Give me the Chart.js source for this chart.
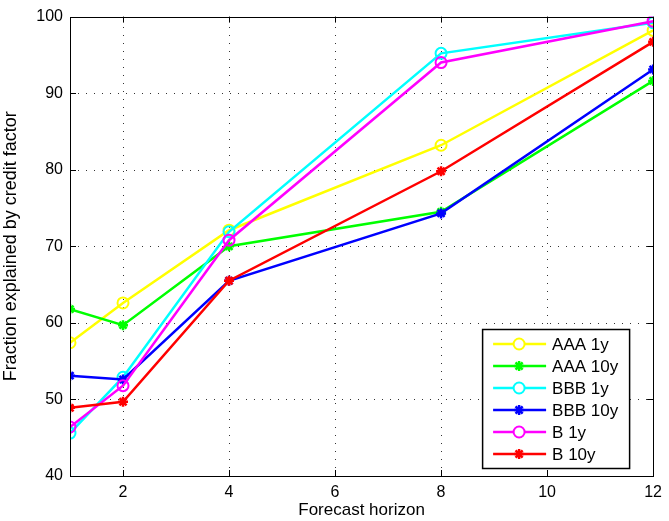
<!DOCTYPE html>
<html>
<head>
<meta charset="utf-8">
<script src="https://cdn.jsdelivr.net/npm/chart.js@4.4.0/dist/chart.umd.min.js"></script>
<style>
  html, body { margin: 0; padding: 0; background: #fff; }
  #wrap { width: 669px; height: 521px; }
</style>
</head>
<body>
<div id="wrap"><canvas id="line-chart"></canvas></div>
<script>
// forecast horizons (x) and the fraction explained for each series
const horizons = [1, 2, 4, 8, 12];
const xTicks = [2, 4, 6, 8, 10, 12];
const yTicks = [40, 50, 60, 70, 80, 90, 100];

const aaa1y = [57.4, 62.6, 72.1, 83.2, 98.2];
const aaa10y = [61.8, 59.7, 70.0, 74.5, 91.6];
const bbb1y = [45.6, 52.9, 71.9, 95.2, 99.2];
const bbb10y = [53.1, 52.6, 65.5, 74.3, 93.1];
const b1y = [46.4, 51.8, 70.8, 94.0, 99.4];
const b10y = [48.9, 49.7, 65.5, 79.8, 96.7];

const seriesNames = ['AAA 1y', 'AAA 10y', 'BBB 1y', 'BBB 10y', 'B 1y', 'B 10y'];
const seriesValues = [aaa1y, aaa10y, bbb1y, bbb10y, b1y, b10y];
const seriesColors = ['#ffff00', '#00ff00', '#00ffff', '#0000ff', '#ff00ff', '#ff0000'];

const FONT = 'Liberation Sans, Arial, Helvetica, sans-serif';

function makeDataset(i) {
  const isCircle = seriesNames[i].indexOf('1y') >= 0;
  return {
    label: seriesNames[i],
    data: horizons.map((h, k) => ({ x: h, y: seriesValues[i][k] })),
    borderColor: seriesColors[i],
    backgroundColor: isCircle ? 'rgba(0,0,0,0)' : seriesColors[i],
    pointBorderColor: seriesColors[i],
    pointStyle: isCircle ? 'circle' : 'star',
    pointRadius: isCircle ? 5.5 : 5,
    pointBorderWidth: isCircle ? 2 : 2.5,
    borderWidth: 2.5,
    fill: false,
    tension: 0,
    order: seriesNames.length - i
  };
}

// dotted grid drawn under the lines
const dottedGrid = {
  id: 'dottedGrid',
  beforeDatasetsDraw(chart) {
    const ctx = chart.ctx;
    const a = chart.chartArea;
    const xs = chart.scales.x;
    const ys = chart.scales.y;
    ctx.save();
    ctx.strokeStyle = '#333';
    ctx.lineWidth = 1;
    ctx.setLineDash([1, 7]);
    ctx.beginPath();
    xTicks.forEach(v => {
      const px = Math.round(xs.getPixelForValue(v)) + 0.5;
      ctx.moveTo(px, a.bottom); ctx.lineTo(px, a.top);
    });
    yTicks.forEach(v => {
      const py = Math.round(ys.getPixelForValue(v)) + 0.5;
      ctx.moveTo(a.left, py); ctx.lineTo(a.right, py);
    });
    ctx.stroke();
    ctx.restore();
  }
};

// matlab style box, inward ticks and legend inside the axes
const matlabAxes = {
  id: 'matlabAxes',
  afterDraw(chart) {
    const ctx = chart.ctx;
    const a = chart.chartArea;
    const xs = chart.scales.x;
    const ys = chart.scales.y;
    ctx.save();
    ctx.strokeStyle = '#000';
    ctx.lineWidth = 1;
    ctx.strokeRect(Math.round(a.left) + 0.5, Math.round(a.top) + 0.5,
      Math.round(a.right - a.left), Math.round(a.bottom - a.top));
    ctx.beginPath();
    xTicks.forEach(v => {
      const px = Math.round(xs.getPixelForValue(v)) + 0.5;
      ctx.moveTo(px, a.bottom); ctx.lineTo(px, a.bottom - 6);
      ctx.moveTo(px, a.top); ctx.lineTo(px, a.top + 6);
    });
    yTicks.forEach(v => {
      const py = Math.round(ys.getPixelForValue(v)) + 0.5;
      ctx.moveTo(a.left, py); ctx.lineTo(a.left + 6, py);
      ctx.moveTo(a.right, py); ctx.lineTo(a.right - 6, py);
    });
    ctx.stroke();

    // legend
    const bw = 147, bh = 139;
    const bx = a.right - 24 - bw;
    const by = a.bottom - 8 - bh;
    ctx.fillStyle = '#fff';
    ctx.fillRect(bx, by, bw, bh);
    ctx.strokeStyle = '#000';
    ctx.lineWidth = 1.5;
    ctx.strokeRect(bx + 0.5, by + 0.5, bw, bh);
    ctx.font = '17px ' + FONT;
    ctx.textBaseline = 'middle';
    ctx.textAlign = 'left';
    seriesNames.forEach((name, i) => {
      const y = by + 15 + i * 22;
      ctx.strokeStyle = seriesColors[i];
      ctx.lineWidth = 2.5;
      ctx.beginPath();
      ctx.moveTo(bx + 11, y); ctx.lineTo(bx + 64, y);
      ctx.stroke();
      const mx = bx + 37;
      if (name.indexOf('1y') >= 0) {
        ctx.lineWidth = 2;
        ctx.beginPath();
        ctx.arc(mx, y, 5.5, 0, Math.PI * 2);
        ctx.fillStyle = '#fff';
        ctx.fill();
        ctx.stroke();
      } else {
        ctx.lineWidth = 2.5;
        ctx.beginPath();
        for (let k = 0; k < 4; k++) {
          const ang = k * Math.PI / 4;
          ctx.moveTo(mx - 5 * Math.cos(ang), y - 5 * Math.sin(ang));
          ctx.lineTo(mx + 5 * Math.cos(ang), y + 5 * Math.sin(ang));
        }
        ctx.stroke();
      }
      ctx.fillStyle = '#000';
      ctx.fillText(name, bx + 70, y + 1);
    });
    ctx.restore();
  }
};

new Chart(document.getElementById('line-chart'), {
  type: 'line',
  data: {
    datasets: seriesNames.map((n, i) => makeDataset(i))
  },
  options: {
    responsive: true,
    maintainAspectRatio: false,
    animation: false,
    layout: { padding: { top: 15, right: 12, left: 0, bottom: 0 } },
    plugins: {
      legend: { display: false },
      tooltip: { enabled: false }
    },
    scales: {
      x: {
        type: 'linear',
        min: 1,
        max: 12,
        afterBuildTicks: scale => { scale.ticks = xTicks.map(v => ({ value: v })); },
        afterFit: scale => { scale.height = 45; },
        grid: { display: false, drawTicks: false },
        border: { display: false },
        ticks: { color: '#000', font: { family: FONT, size: 16 }, padding: 7, maxRotation: 0 },
        title: { display: true, text: 'Forecast horizon', color: '#000', font: { family: FONT, size: 17 }, padding: { top: 0, bottom: 0 } }
      },
      y: {
        type: 'linear',
        min: 40,
        max: 100,
        afterBuildTicks: scale => { scale.ticks = yTicks.map(v => ({ value: v })); },
        afterFit: scale => { scale.width = 70; },
        grid: { display: false, drawTicks: false },
        border: { display: false },
        ticks: { color: '#000', font: { family: FONT, size: 16 }, padding: 7 },
        title: { display: true, text: 'Fraction explained by credit factor', color: '#000', font: { family: FONT, size: 18 }, padding: { top: 0, bottom: 2 } }
      }
    }
  },
  plugins: [dottedGrid, matlabAxes]
});
</script>
</body>
</html>
